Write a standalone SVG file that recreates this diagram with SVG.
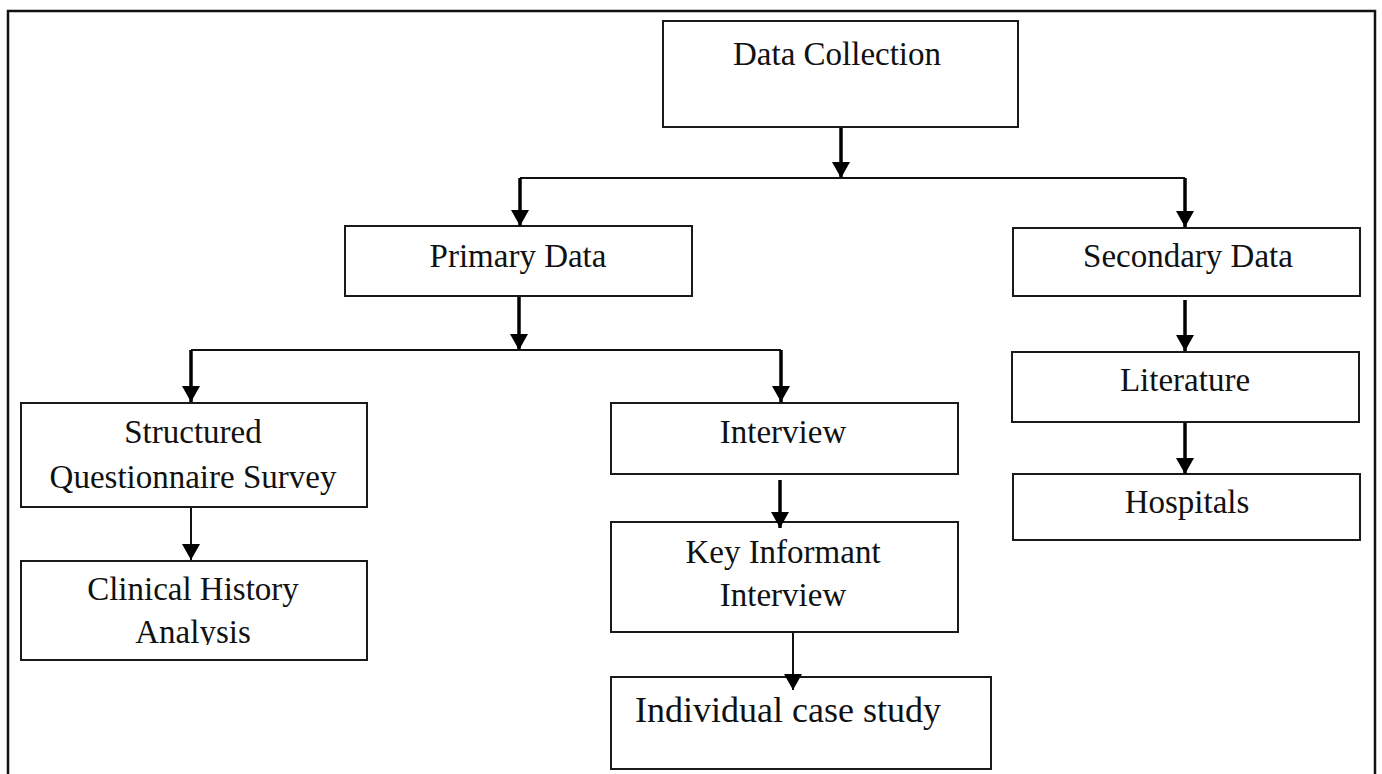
<svg xmlns="http://www.w3.org/2000/svg" width="1382" height="774" viewBox="0 0 1382 774">
<style>
.box{fill:#fff;stroke:#1a1a1a;stroke-width:2}
.t{font-family:"Liberation Serif","Times New Roman",serif;font-size:33px;fill:#111;text-anchor:middle}
.thick{stroke:#000;stroke-width:3.5;fill:none}
.thin{stroke:#111;stroke-width:2;fill:none}
.frame{stroke:#111;stroke-width:2.5;fill:none}
</style>
<defs>
<marker id="ah" markerUnits="userSpaceOnUse" markerWidth="18" markerHeight="20" refX="16" refY="9" orient="auto" overflow="visible">
<path d="M0,0 L16,9 L0,18 z" fill="#000"/>
</marker>
<clipPath id="clipA"><rect x="100" y="600" width="200" height="45"/></clipPath>
</defs>
<rect width="1382" height="774" fill="#fff"/>
<path class="frame" d="M8,776 V11 H1375 V776"/>
<g id="data-collection">
<rect class="box" x="663" y="21" width="355" height="106"/>
<text class="t" x="837" y="65">Data Collection</text>
</g>
<g id="primary-data">
<rect class="box" x="345" y="226" width="347" height="70"/>
<text class="t" x="518" y="267">Primary Data</text>
</g>
<g id="secondary-data">
<rect class="box" x="1013" y="228" width="347" height="68"/>
<text class="t" x="1188" y="267">Secondary Data</text>
</g>
<g id="structured-questionnaire">
<rect class="box" x="21" y="403" width="346" height="104"/>
<text class="t" x="193" y="443">Structured</text>
<text class="t" x="193" y="488">Questionnaire Survey</text>
</g>
<g id="clinical-history">
<rect class="box" x="21" y="561" width="346" height="99"/>
<text class="t" x="193" y="600">Clinical History</text>
<text class="t" x="193" y="643" clip-path="url(#clipA)">Analysis</text>
</g>
<g id="interview">
<rect class="box" x="611" y="403" width="347" height="71"/>
<text class="t" x="783" y="443">Interview</text>
</g>
<g id="key-informant">
<rect class="box" x="611" y="522" width="347" height="110"/>
<text class="t" x="783" y="563">Key Informant</text>
<text class="t" x="783" y="606">Interview</text>
</g>
<g id="individual-case-study">
<rect class="box" x="611" y="677" width="380" height="92"/>
<text class="t" x="788" y="722" style="font-size:36px">Individual case study</text>
</g>
<g id="literature">
<rect class="box" x="1012" y="352" width="347" height="70"/>
<text class="t" x="1185" y="391">Literature</text>
</g>
<g id="hospitals">
<rect class="box" x="1013" y="474" width="347" height="66"/>
<text class="t" x="1187" y="513">Hospitals</text>
</g>
<g id="connectors">
<line class="thick" x1="841" y1="128" x2="841" y2="178" marker-end="url(#ah)"/>
<line class="thin" x1="520" y1="178" x2="1185" y2="178"/>
<line class="thick" x1="520" y1="178" x2="520" y2="226" marker-end="url(#ah)"/>
<line class="thick" x1="1185" y1="178" x2="1185" y2="227" marker-end="url(#ah)"/>
<line class="thick" x1="519" y1="297" x2="519" y2="350" marker-end="url(#ah)"/>
<line class="thin" x1="191" y1="350" x2="781" y2="350"/>
<line class="thick" x1="191" y1="350" x2="191" y2="402" marker-end="url(#ah)"/>
<line class="thick" x1="781" y1="350" x2="781" y2="402" marker-end="url(#ah)"/>
<line class="thin" x1="191" y1="508" x2="191" y2="560" marker-end="url(#ah)"/>
<line class="thick" x1="780" y1="480" x2="780" y2="528" marker-end="url(#ah)"/>
<line class="thin" x1="793" y1="633" x2="793" y2="690" marker-end="url(#ah)"/>
<line class="thick" x1="1185" y1="300" x2="1185" y2="351" marker-end="url(#ah)"/>
<line class="thick" x1="1185" y1="423" x2="1185" y2="474" marker-end="url(#ah)"/>
</g>
</svg>
